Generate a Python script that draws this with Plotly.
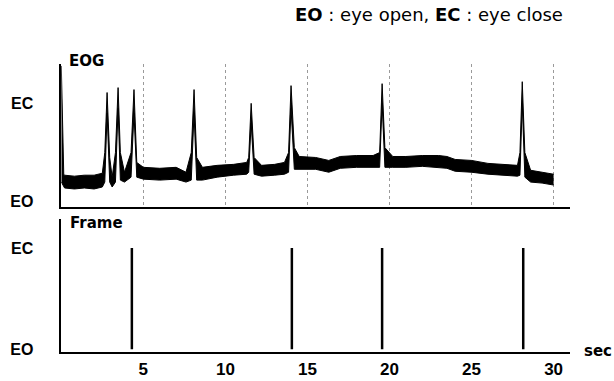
import plotly.graph_objects as go

# ---- data ----
# EOG band (upper / lower envelope), EO = 0, EC = 1
eog_t = [0.0, 0.15, 0.2, 0.8, 1.4, 2.0, 2.5, 2.65, 2.79, 2.95, 3.1, 3.3, 3.46, 3.6, 3.85,
         4.25, 4.43, 4.6, 5.0, 6.0, 7.0, 7.6, 7.92, 8.09, 8.25, 8.6, 9.5, 10.5, 11.3,
         11.42, 11.57, 11.75, 12.2, 13.0, 13.6, 13.85, 14.0, 14.2, 14.5, 15.5, 16.3,
         17.0, 18.0, 19.0, 19.4, 19.55, 19.72, 20.2, 21.0, 22.0, 23.0, 23.5, 24.0,
         25.0, 26.0, 27.0, 27.8, 27.95, 28.09, 28.25, 28.6, 29.3, 30.0]
eog_upper = [1.38, 0.28, 0.27, 0.26, 0.27, 0.27, 0.29, 0.50, 1.11, 0.45, 0.25, 0.50, 1.16, 0.50, 0.30,
             0.50, 1.14, 0.40, 0.35, 0.34, 0.35, 0.30, 0.50, 1.14, 0.45, 0.35, 0.37, 0.38, 0.40,
             0.45, 1.00, 0.45, 0.37, 0.38, 0.40, 0.50, 1.18, 0.55, 0.46, 0.45, 0.42,
             0.46, 0.47, 0.47, 0.50, 1.20, 0.55, 0.46, 0.46, 0.47, 0.47, 0.46, 0.43,
             0.42, 0.39, 0.38, 0.37, 0.50, 1.22, 0.50, 0.32, 0.30, 0.28]
eog_lower = [0.20, 0.15, 0.14, 0.13, 0.14, 0.13, 0.15, 0.20, 0.90, 0.20, 0.15, 0.20, 0.95, 0.22, 0.20,
             0.25, 0.90, 0.25, 0.23, 0.22, 0.23, 0.20, 0.22, 0.90, 0.22, 0.22, 0.25, 0.27, 0.28,
             0.30, 0.80, 0.28, 0.26, 0.27, 0.28, 0.30, 0.95, 0.33, 0.33, 0.33, 0.30,
             0.34, 0.35, 0.35, 0.35, 1.00, 0.35, 0.35, 0.35, 0.36, 0.35, 0.34, 0.31,
             0.30, 0.28, 0.27, 0.26, 0.27, 1.00, 0.25, 0.20, 0.19, 0.17]

# Frame: eye-close detections (sec)
frame_t = [4.3, 14.05, 19.55, 28.15]

x_ticks = [5, 10, 15, 20, 25, 30]
state_vals = [0, 1]
state_text = ["EO", "EC"]

FONT = "Liberation Sans, Arial, sans-serif"
WIDE = "DejaVu Sans, sans-serif"

fig = go.Figure()

fig.add_trace(go.Scatter(x=eog_t, y=eog_lower, mode="lines",
                         line=dict(color="black", width=1), xaxis="x", yaxis="y",
                         showlegend=False, hoverinfo="skip"))
fig.add_trace(go.Scatter(x=eog_t, y=eog_upper, mode="lines", fill="tonexty",
                         fillcolor="black", line=dict(color="black", width=1),
                         xaxis="x", yaxis="y", showlegend=False))

fx, fy = [], []
for t in frame_t:
    fx += [t, t, None]
    fy += [0, 1, None]
fig.add_trace(go.Scatter(x=fx, y=fy, mode="lines", line=dict(color="black", width=2.5),
                         xaxis="x2", yaxis="y2", showlegend=False))

xdom = [61.3 / 614, 570 / 614]
axis_common = dict(showline=True, linecolor="black", linewidth=1.5, zeroline=False,
                   ticks="", mirror=False)
ytick_font = dict(family=FONT, size=16, weight="bold")

fig.update_layout(
    width=614, height=381,
    margin=dict(l=0, r=0, t=0, b=0),
    paper_bgcolor="white", plot_bgcolor="white",
    font=dict(family=FONT, color="black"),
    xaxis=dict(domain=xdom, range=[0, 31], tickvals=x_ticks, showticklabels=False,
               showgrid=True, griddash="dot", gridcolor="#9a9a9a", gridwidth=1,
               anchor="y", **axis_common),
    yaxis=dict(domain=[1 - 210 / 381, 1 - 65 / 381], range=[-0.05, 1.40],
               tickvals=state_vals, ticktext=state_text, showgrid=False,
               ticklabelstandoff=23, tickfont=ytick_font,
               anchor="x", **axis_common),
    xaxis2=dict(domain=xdom, range=[0, 31], tickvals=x_ticks,
                ticktext=[str(v) for v in x_ticks], showgrid=False,
                tickfont=dict(family=FONT, size=17, weight="bold"), ticklabelstandoff=0,
                anchor="y2", **axis_common),
    yaxis2=dict(domain=[1 - 358 / 381, 1 - 222 / 381], range=[-0.03, 1.29],
                tickvals=state_vals, ticktext=state_text, showgrid=False,
                ticklabelstandoff=23, tickfont=ytick_font,
                anchor="x2", **axis_common),
    annotations=[
        dict(text="<b>EO</b> : eye open, <b>EC</b> : eye close", x=429 / 614, y=1 - 15 / 381,
             xref="paper", yref="paper", xanchor="center", yanchor="middle",
             showarrow=False, font=dict(family=WIDE, size=18)),
        dict(text="<b>EOG</b>", x=67 / 614, y=1 - 62 / 381, xref="paper", yref="paper",
             xanchor="left", yanchor="middle", showarrow=False,
             font=dict(family=WIDE, size=15)),
        dict(text="<b>Frame</b>", x=68 / 614, y=1 - 227 / 381, xref="paper", yref="paper",
             xanchor="left", yanchor="middle", showarrow=False,
             font=dict(family=WIDE, size=15)),
        dict(text="<b>sec</b>", x=582 / 614, y=1 - 357 / 381, xref="paper", yref="paper",
             xanchor="left", yanchor="middle", showarrow=False,
             font=dict(family=WIDE, size=15)),
    ],
)

fig.write_html("out.html")
